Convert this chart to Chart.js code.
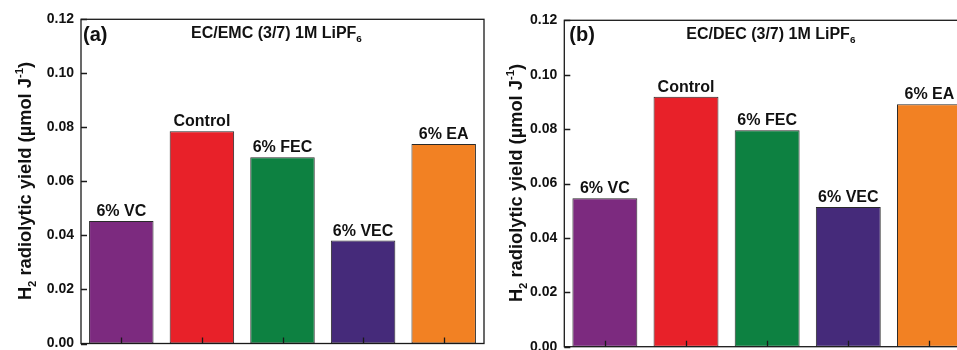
<!DOCTYPE html>
<html><head><meta charset="utf-8">
<script src="https://cdn.jsdelivr.net/npm/chart.js@4.4.1/dist/chart.umd.min.js"></script>
<style>
html,body{margin:0;padding:0;background:#fff;overflow:hidden;width:957px;height:350px;position:relative}
canvas{position:absolute;top:0}
#ca{left:0}
#cb{left:480px}
</style></head>
<body>
<canvas id="ca" width="490" height="350"></canvas>
<canvas id="cb" width="500" height="350"></canvas>
<script>
// ---- data ----
const categories = ['6% VC', 'Control', '6% FEC', '6% VEC', '6% EA'];
const yieldEMC = [0.0453, 0.0786, 0.0689, 0.0381, 0.0738];
const yieldDEC = [0.0546, 0.0919, 0.0796, 0.0514, 0.0891];
const yTicks = [0, 0.02, 0.04, 0.06, 0.08, 0.10, 0.12];
const barColors = ['#7C2A7F', '#E82129', '#0D8141', '#452A7A', '#F28123'];
const panelLetters = ['(a)', '(b)'];
const panelTitleMain = ['EC/EMC (3/7) 1M LiPF', 'EC/DEC (3/7) 1M LiPF'];
const panelTitleSub = ['6', '6'];

const FONT = '"Liberation Sans", Arial, sans-serif';

function drawRich(ctx, parts, size) {
  let x = 0;
  parts.forEach(p => {
    const fs = p.mode ? size * 0.62 : size;
    ctx.font = 'bold ' + fs + 'px ' + FONT;
    const dy = p.mode === 'sub' ? size * 0.28 : (p.mode === 'sup' ? -size * 0.42 : 0);
    ctx.fillText(p.t, x, dy);
    x += ctx.measureText(p.t).width;
  });
  return x;
}
function richWidth(ctx, parts, size) {
  let w = 0;
  parts.forEach(p => {
    ctx.font = 'bold ' + (p.mode ? size * 0.62 : size) + 'px ' + FONT;
    w += ctx.measureText(p.t).width;
  });
  return w;
}

const yLabelParts = [{t:'H'},{t:'2',mode:'sub'},{t:' radiolytic yield (\u00B5mol J'},{t:'-1',mode:'sup'},{t:')'}];

const decorPlugin = {
  id: 'decor',
  afterDatasetsDraw(chart) {
    const ctx = chart.ctx;
    const meta = chart.getDatasetMeta(0);
    ctx.save();
    ctx.fillStyle = '#111';
    ctx.font = 'bold 16px ' + FONT;
    ctx.textAlign = 'center';
    ctx.textBaseline = 'alphabetic';
    meta.data.forEach((el, i) => {
      ctx.fillText(chart.data.labels[i], el.x, el.y - 5);
    });
    ctx.restore();
  },
  afterDraw(chart) {
    const ctx = chart.ctx;
    const a = chart.chartArea;
    const {x, y} = chart.scales;
    const pc = chart.options.plugins.decor;
    ctx.save();
    ctx.strokeStyle = '#1a1a1a';
    ctx.lineWidth = 1.3;
    ctx.strokeRect(a.left, a.top, a.right - a.left, a.bottom - a.top);
    ctx.beginPath();
    yTicks.forEach(v => {
      const py = Math.round(y.getPixelForValue(v)) + 0.5;
      ctx.moveTo(a.left, py); ctx.lineTo(a.left + 6, py);
    });
    chart.data.labels.forEach((c, i) => {
      const px = Math.round(x.getPixelForValue(i)) + 0.5;
      ctx.moveTo(px, a.bottom); ctx.lineTo(px, a.bottom - 6);
    });
    ctx.stroke();

    ctx.fillStyle = '#111';
    ctx.textBaseline = 'alphabetic';
    ctx.textAlign = 'left';
    ctx.font = 'bold 20px ' + FONT;
    ctx.fillText(pc.letter, a.left + pc.letterDx, pc.letterY);
    ctx.save();
    ctx.translate(a.left + pc.titleDx, pc.titleY);
    drawRich(ctx, [{t: pc.title}, {t: pc.sub, mode: 'sub'}], 16);
    ctx.restore();
    const w = richWidth(ctx, yLabelParts, 18.3);
    ctx.save();
    ctx.translate(pc.ylabX, pc.ylabCy + w / 2);
    ctx.rotate(-Math.PI / 2);
    drawRich(ctx, yLabelParts, 18.3);
    ctx.restore();
    ctx.restore();
  }
};

function makeChart(id, values, pc) {
  return new Chart(document.getElementById(id), {
    type: 'bar',
    data: {
      labels: categories,
      datasets: [{
        data: values,
        backgroundColor: barColors,
        borderColor: '#2a2a2a',
        borderWidth: 1,
        borderSkipped: false,
        categoryPercentage: 1,
        barPercentage: 0.8
      }]
    },
    options: {
      responsive: false,
      animation: false,
      layout: {padding: {top: pc.padTop, right: pc.padRight, left: 0, bottom: 0}},
      plugins: {legend: {display: false}, tooltip: {enabled: false}, decor: pc},
      scales: {
        x: {
          grid: {display: false, drawTicks: false},
          border: {display: false},
          ticks: {display: false},
          afterFit(s) { s.height = pc.xh; s.paddingLeft = 0; s.paddingRight = 0; }
        },
        y: {
          min: 0, max: 0.12,
          afterBuildTicks(s) { s.ticks = yTicks.map(v => ({value: v})); },
          grid: {display: false, drawTicks: false},
          border: {display: false},
          ticks: {
            padding: 7,
            color: '#111',
            font: {family: FONT, size: 14, weight: 'bold'},
            callback: v => Number(v).toFixed(2)
          },
          afterFit(s) { s.width = pc.yw; s.paddingTop = 0; s.paddingBottom = 0; }
        }
      }
    },
    plugins: [decorPlugin]
  });
}

makeChart('ca', yieldEMC, {
  letter: panelLetters[0], title: panelTitleMain[0], sub: panelTitleSub[0],
  padTop: 19.3, padRight: 6, xh: 6.5, yw: 81,
  letterDx: 2, letterY: 41, titleDx: 110, titleY: 38, ylabX: 31, ylabCy: 181
});
makeChart('cb', yieldDEC, {
  letter: panelLetters[1], title: panelTitleMain[1], sub: panelTitleSub[1],
  padTop: 20.3, padRight: 10, xh: 3.3, yw: 84.3,
  letterDx: 5, letterY: 41, titleDx: 122, titleY: 39, ylabX: 42, ylabCy: 183
});
</script>
</body></html>
